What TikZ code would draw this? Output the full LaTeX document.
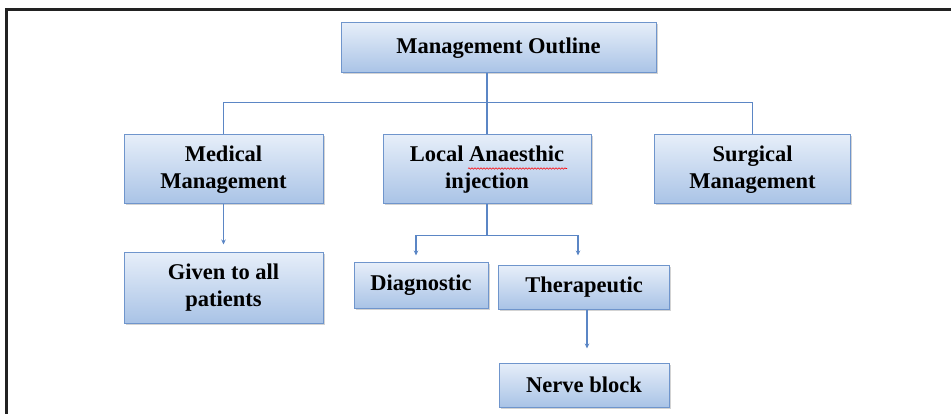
\documentclass[tikz,border=0pt]{standalone}
\usepackage{fontspec}
\setmainfont{Liberation Serif}
\usetikzlibrary{shadows,arrows.meta,decorations.pathmorphing}
\definecolor{boxline}{HTML}{6F95CC}
\definecolor{boxtop}{HTML}{E6EEF9}
\definecolor{boxbottom}{HTML}{A9C3E6}
\definecolor{wirecol}{HTML}{5B86C5}
\definecolor{framecol}{HTML}{222222}
\begin{document}
\begin{tikzpicture}[x=1pt, y=-1pt,
	box/.style={draw=boxline, line width=1pt, top color=boxtop, bottom color=boxbottom,
		drop shadow={shadow xshift=1.5pt, shadow yshift=-1.5pt, opacity=0.35},
		align=center, inner sep=0pt, font=\fontsize{22.5}{27}\selectfont\bfseries},
	wire/.style={draw=wirecol, line width=1.1pt},
	arr/.style={wire, -{Stealth[length=5pt,width=4.5pt]}}]

			\useasboundingbox (0,0) rectangle (951,414);

			% Draw the frame
			\draw[framecol, line width=3.5pt] (6.5,414) -- (6.5,9.5) -- (951,9.5);

			% Draw the boxes
			\node[box, minimum width=315, minimum height=50] (outline) at (498.5,48) {Management Outline};
			\node[box, minimum width=199, minimum height=69] (medical) at (223.5,169.5) {Medical\\Management};
			\node[box, minimum width=208, minimum height=69] (local) at (487,169.5) {Local Anaesthic\\injection};
			\node[box, minimum width=196, minimum height=69] (surgical) at (752.5,169.5) {Surgical\\Management};
			\node[box, minimum width=199, minimum height=70] (given) at (223.5,288) {Given to all\\patients};
			\node[box, minimum width=134, minimum height=45] (diag) at (421,285.5) {Diagnostic};
			\node[box, minimum width=171, minimum height=43] (ther) at (584,287.5) {Therapeutic};
			\node[box, minimum width=170, minimum height=44] (nerve) at (584,385) {Nerve block};

			% Draw the spell-check underline
			\draw[red, line width=0.6pt, decorate, decoration={snake, segment length=3pt, amplitude=0.7pt}]
				([shift={(-19,-1)}]local.center) -- ([shift={(80,-1)}]local.center);

			% Draw the wires from the top box
			\draw[wire] (outline.south -| local.north) -- (local.north);
			\draw[wire] (medical.north) -- ++(0,-32) -| (surgical.north);

			% Draw the arrows below
			\draw[arr, shorten >=8pt] (medical) -- (given);
			\draw[wire] (local.south) -- ++(0,31) coordinate (split);
			\draw[arr, shorten >=7pt] (split) -| ([xshift=-5]diag.north);
			\draw[arr, shorten >=10pt] (split) -| ([xshift=-6]ther.north);
			\draw[arr, shorten >=14pt] ([xshift=3]ther.south) -- ([xshift=3]nerve.north);

\end{tikzpicture}
\end{document}
